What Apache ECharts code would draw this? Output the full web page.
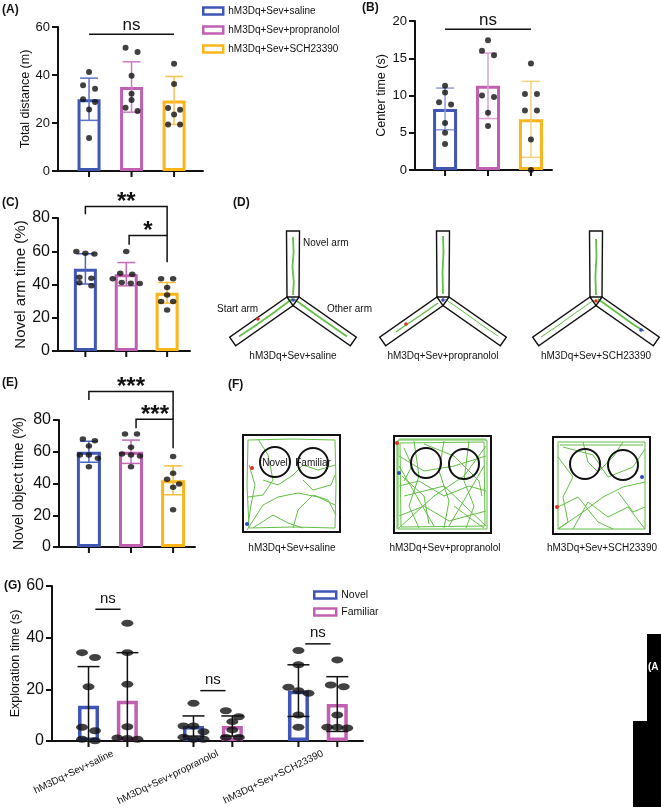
<!DOCTYPE html>
<html><head><meta charset="utf-8">
<script src="https://cdn.jsdelivr.net/npm/echarts@6/dist/echarts.min.js"></script>
<style>html,body{margin:0;padding:0;background:#fff}#c{width:661px;height:810px}</style>
</head><body><div id="c"></div>
<script>
// ---------------- data ----------------
const groups = ['hM3Dq+Sev+saline', 'hM3Dq+Sev+propranolol', 'hM3Dq+Sev+SCH23390'];
const objectNames = ['Novel', 'Familiar'];

// (A) Total distance (m)
const distMean = [29.9, 35.0, 29.4];
const distSD = [8.8, 10.5, 10.0];
const distDots = [[41.3, 35.7, 34.3, 29.9, 28.75, 25.6, 13.75], [51.4, 49.6, 39.7, 32.2, 29.6, 26.4, 25.0], [44.7, 36.2, 26.2, 25.5, 23.5, 19.4, 19.4]];

// (B) Center time (s)
const centerMean = [8.2, 11.3, 6.8];
const centerSD = [2.8, 4.4, 5.1];
const centerDots = [[11.3, 10.4, 9.1, 8.8, 6.3, 5.0, 3.5], [17.4, 16.0, 15.4, 10.0, 9.8, 7.7, 5.9], [14.3, 10.2, 10.2, 8.0, 8.0, 4.1, 0]];

// (C) Novel arm time (%)
const armMean = [49.4, 46.2, 35.0];
const armSD = [9.1, 7.0, 6.2];
const armDots = [[59.8, 58.8, 58.4, 44.4, 43.8, 41.1, 39.3], [59.8, 46.8, 46.2, 43.5, 41.2, 40.8, 40.6], [43.4, 43.4, 38.2, 33.7, 29.7, 29.7, 24.7]];

// (E) Novel object time (%)
const objMean = [60.0, 60.0, 42.0];
const objSD = [6.6, 7.35, 9.1];
const objDots = [[68, 67, 63.6, 58, 58, 55.9, 50.6], [71.2, 71.2, 62.8, 58.6, 58, 57.3, 50.5], [57, 46.5, 42.6, 39.7, 37.6, 23.5]];

// (G) Exploration time (s)
const novelMean = [13.6, 5.8, 19.5];
const novelSD = [15.2, 3.9, 10.0];
const familiarMean = [15.6, 5.8, 14.3];
const familiarSD = [18.6, 3.9, 10.6];
const novelDots = [[34.2, 32.3, 21.0, 5.3, 4.0, 0.7, 0.1], [14.6, 5.8, 5.8, 3.6, 1.5, 0.7, 0.7], [35.0, 29.5, 20.8, 19.5, 18.5, 10.1, 5.3]];
const familiarDots = [[45.6, 34.2, 22.0, 5.5, 1.2, 1.0, 0.7], [11.7, 9.4, 7.5, 4.3, 1.4, 1.4], [31.4, 21.7, 21.0, 10.1, 5.3, 5.3, 5.0]];

// significance labels
const sigA = ['ns'], sigB = ['ns'], sigC = ['**', '*'], sigE = ['***', '***'], sigG = ['ns', 'ns', 'ns'];

// ---------------- style / layout ----------------
const FONT = '"Liberation Sans", Arial, sans-serif';
const INK = '#111';
const COLORS = ['#3f56b5', '#c160b2', '#fbb519'];
const GREEN = '#63bf46';

function swarm(vals, pyPx, pxX, thr, step2, stepN) {
  const s = vals.slice().sort((a, b) => b - a);
  const out = []; let row = [];
  const flush = () => {
    const k = row.length; const st = k === 2 ? step2 : stepN;
    row.forEach((v, i) => out.push([(i - (k - 1) / 2) * st / pxX, v]));
    row = [];
  };
  s.forEach(v => { if (row.length && (row[0] - v) * pyPx >= thr) flush(); row.push(v); });
  flush();
  return out;
}

const panels = [
  {mean: distMean, sd: distSD, dots: distDots, grid: {left: 58, top: 27, width: 145, height: 144}, xr: [-0.73, 2.68], ymax: 60, yint: 20,
   title: 'Total distance (m)', labelSize: 13, titleSize: 12.5, nameGap: 25, barW: 23, dot: 6,
   errCol: ['#5d72c9', '#cc7dc1', '#f6c257'], pxX: 42.5, pyPx: 2.4,
   brackets: [[0, 57, 2, 57, 57]], texts: [[1, 60.8]], sig: sigA, sigSize: 17, sigBold: false},
  {mean: centerMean, sd: centerSD, dots: centerDots, grid: {left: 415, top: 21, width: 137, height: 149}, xr: [-0.70, 2.49], ymax: 20, yint: 5,
   title: 'Center time (s)', labelSize: 13, titleSize: 12.5, nameGap: 27, barW: 24, dot: 6,
   errCol: ['#8f9cd9', '#dca2d3', '#f8d07f'], pxX: 43, pyPx: 7.45,
   brackets: [[0, 18.9, 2, 18.9, 18.9]], texts: [[1, 20.1]], sig: sigB, sigSize: 17, sigBold: false},
  {mean: armMean, sd: armSD, dots: armDots, grid: {left: 58, top: 218, width: 132, height: 133}, xr: [-0.67, 2.56], ymax: 80, yint: 20,
   title: 'Novel arm time (%)', labelSize: 16, titleSize: 15, nameGap: 30, barW: 23, dot: [6.5, 5.5],
   errCol: ['#4c63c0', '#c46bb8', '#f8bd3a'], pxX: 40.75, pyPx: 1.66,
   brackets: [[0, 82.3, 2, 69.5, 86.9], [1.07, 63.9, 2, 53.4, 69.5]], texts: [[1, 92.4], [1.53, 75]], sig: sigC, sigSize: 24, sigBold: true},
  {mean: objMean, sd: objSD, dots: objDots, grid: {left: 59, top: 420, width: 136, height: 127}, xr: [-0.71, 2.52], ymax: 80, yint: 20,
   title: 'Novel object time (%)', labelSize: 16, titleSize: 14, nameGap: 33, barW: 24, dot: [6.5, 5.5],
   errCol: ['#4c63c0', '#c46bb8', '#f8bd3a'], pxX: 42, pyPx: 1.59,
   brackets: [[0, 92.6, 2, 80.4, 97.9], [1.12, 74.8, 2, 62.2, 80.4]], texts: [[1, 103.5], [1.57, 85.9]], sig: sigE, sigSize: 24, sigBold: true}
];

const G = {grid: {left: 52, top: 586, width: 311, height: 155}, xr: [-0.533, 2.43], ymax: 60, yint: 20, pxX: 105, pyPx: 2.58, off: 0.185};

const option = {
  animation: false,
  backgroundColor: '#fff',
  textStyle: {fontFamily: FONT},
  grid: [], xAxis: [], yAxis: [], series: [],
  legend: [
    {orient: 'vertical', left: 197, top: 0, itemWidth: 20, itemHeight: 7, itemGap: 7, icon: 'rect', selectedMode: false,
     textStyle: {fontSize: 10, color: INK, lineHeight: 12},
     data: groups.map((n, i) => ({name: n, itemStyle: {color: '#fff', borderColor: COLORS[i], borderWidth: 2.5}}))},
    {orient: 'vertical', left: 308, top: 584, itemWidth: 22, itemHeight: 7, itemGap: 5, icon: 'rect', selectedMode: false,
     textStyle: {fontSize: 10.5, color: INK, lineHeight: 12},
     data: objectNames.map((n, i) => ({name: n, itemStyle: {color: '#fff', borderColor: COLORS[i], borderWidth: 2.5}}))}
  ],
  graphic: []
};

function addAxes(gi, P, title, labelSize, titleSize, nameGap) {
  option.grid.push(Object.assign({containLabel: false}, P.grid));
  option.xAxis.push({gridIndex: gi, type: 'value', min: P.xr[0], max: P.xr[1],
    axisLine: {show: true, onZero: false, lineStyle: {color: INK, width: 2}}, axisTick: {show: false}, axisLabel: {show: false}, splitLine: {show: false}});
  option.yAxis.push({gridIndex: gi, type: 'value', min: 0, max: P.ymax, interval: P.yint,
    axisLine: {show: true, onZero: false, lineStyle: {color: INK, width: 2}}, axisTick: {show: true, length: 6, lineStyle: {color: INK, width: 2}},
    axisLabel: {fontSize: labelSize, color: INK, margin: 8}, splitLine: {show: false},
    name: title, nameLocation: 'middle', nameGap: nameGap, nameTextStyle: {fontSize: titleSize, color: INK}});
}

function errSeries(gi, data, colors, cap, lw) {
  return {type: 'custom', xAxisIndex: gi, yAxisIndex: gi, z: 6, silent: true, clip: false, data: data,
    renderItem: (p, api) => {
      const x = api.value(0), m = api.value(1), s = api.value(2);
      const col = colors[p.dataIndex % colors.length];
      const a = api.coord([x, m + s]), b = api.coord([x, Math.max(m - s, 0)]);
      const st = {stroke: col, lineWidth: lw};
      const ch = [{type: 'line', shape: {x1: a[0], y1: a[1], x2: b[0], y2: b[1]}, style: st},
                  {type: 'line', shape: {x1: a[0] - cap / 2, y1: a[1], x2: a[0] + cap / 2, y2: a[1]}, style: st}];
      if (m - s > 0) ch.push({type: 'line', shape: {x1: b[0] - cap / 2, y1: b[1], x2: b[0] + cap / 2, y2: b[1]}, style: st});
      return {type: 'group', children: ch};
    }};
}
function tickSeries(gi, xs) {
  return {type: 'custom', xAxisIndex: gi, yAxisIndex: gi, z: 6, silent: true, clip: false, data: xs.map(x => [x, 0]),
    renderItem: (p, api) => { const a = api.coord([api.value(0), 0]);
      return {type: 'line', shape: {x1: a[0], y1: a[1], x2: a[0], y2: a[1] + 6}, style: {stroke: INK, lineWidth: 2}}; }};
}
function bracketSeries(gi, data) {
  return {type: 'custom', xAxisIndex: gi, yAxisIndex: gi, z: 7, silent: true, clip: false, data: data,
    renderItem: (p, api) => {
      const xL = api.value(0), yL = api.value(1), xR = api.value(2), yR = api.value(3), yT = api.value(4);
      const pts = [api.coord([xL, yL]), api.coord([xL, yT]), api.coord([xR, yT]), api.coord([xR, yR])];
      return {type: 'polyline', shape: {points: pts}, style: {stroke: INK, lineWidth: 1.5, fill: null}};
    }};
}
function textSeries(gi, data, labels, size, bold) {
  return {type: 'custom', xAxisIndex: gi, yAxisIndex: gi, z: 7, silent: true, clip: false, data: data,
    renderItem: (p, api) => {
      const a = api.coord([api.value(0), api.value(1)]);
      return {type: 'text', x: a[0], y: a[1] + (bold ? size * 0.2 : 0),
        style: {text: labels[p.dataIndex], fontSize: size, fontWeight: bold ? 'bold' : 'normal', fontFamily: FONT, fill: INK, align: 'center', verticalAlign: 'middle'}};
    }};
}

panels.forEach((P, gi) => {
  addAxes(gi, P, P.title, P.labelSize, P.titleSize, P.nameGap);
  groups.forEach((name, i) => option.series.push({type: 'bar', name: name, xAxisIndex: gi, yAxisIndex: gi, data: [[i, P.mean[i]]],
    barWidth: P.barW, barGap: '-100%', z: 2, silent: true,
    itemStyle: {color: 'rgba(255,255,255,0)', borderColor: COLORS[i], borderWidth: 3}}));
  option.series.push(errSeries(gi, P.mean.map((m, i) => [i, m, P.sd[i]]), P.errCol, 18, 1.5));
  const dots = [];
  P.dots.forEach((vals, i) => swarm(vals, P.pyPx, P.pxX, 5, 12, 9).forEach(d => dots.push([i + d[0], d[1]])));
  option.series.push({type: 'scatter', xAxisIndex: gi, yAxisIndex: gi, data: dots, symbol: 'circle', symbolSize: P.dot,
    itemStyle: {color: INK}, z: 8, silent: true, clip: false});
  option.series.push(tickSeries(gi, [0, 1, 2]));
  option.series.push(bracketSeries(gi, P.brackets));
  option.series.push(textSeries(gi, P.texts, P.sig, P.sigSize, P.sigBold));
});

// (G)
const gi = panels.length;
addAxes(gi, G, 'Exploration time (s)', 16, 12.5, 24);
[[novelMean, novelSD, novelDots, -G.off], [familiarMean, familiarSD, familiarDots, G.off]].forEach((s, k) => {
  option.series.push({type: 'bar', name: objectNames[k], xAxisIndex: gi, yAxisIndex: gi, data: s[0].map((m, i) => [i + s[3], m]),
    barWidth: 21, barGap: '-100%', z: 2, silent: true,
    itemStyle: {color: 'rgba(255,255,255,0)', borderColor: COLORS[k], borderWidth: 3.5}});
  option.series.push(errSeries(gi, s[0].map((m, i) => [i + s[3], m, s[1][i]]), [INK], 22, 1.5));
  const dots = [];
  s[2].forEach((vals, i) => swarm(vals, G.pyPx, G.pxX, 7, 13, 10).forEach(d => dots.push([i + s[3] + d[0], d[1]])));
  option.series.push({type: 'scatter', xAxisIndex: gi, yAxisIndex: gi, data: dots, symbol: 'circle', symbolSize: [12, 7],
    itemStyle: {color: INK}, z: 8, silent: true, clip: false});
});
option.series.push(tickSeries(gi, [0, 1, 2].flatMap(i => [i - G.off, i + G.off])));
option.series.push(bracketSeries(gi, [[-0.12, 51.0, 0.12, 51.0, 51.0], [0.88, 19.5, 1.12, 19.5, 19.5], [1.88, 37.6, 2.12, 37.6, 37.6]]));
option.series.push(textSeries(gi, [[0, 54.9], [1, 23.6], [2, 42.0]], sigG, 15, false));
option.series.push({type: 'custom', xAxisIndex: gi, yAxisIndex: gi, z: 7, silent: true, clip: false, data: [[0, 0], [1, 0], [2, 0]],
  renderItem: (p, api) => { const a = api.coord([api.value(0), 0]);
    return {type: 'text', x: a[0] + 5, y: a[1] + 12, rotation: 26 * Math.PI / 180,
      style: {text: groups[p.dataIndex], fontSize: 10, fontFamily: FONT, fill: INK, align: 'right', verticalAlign: 'middle'}}; }});

// ---------------- illustrations (D, F) and labels ----------------
const gr = option.graphic;
function txt(x, y, t, size, opts) {
  gr.push(Object.assign({type: 'text', x: x, y: y, silent: true,
    style: Object.assign({text: t, fontSize: size, fontFamily: FONT, fill: INK, align: 'left', verticalAlign: 'middle'}, opts || {})}));
}
[['(A)', 2, 10], ['(B)', 362, 8], ['(C)', 2, 203], ['(D)', 233, 203], ['(E)', 2, 383], ['(F)', 228, 385], ['(G)', 4, 586]]
  .forEach(l => txt(l[1], l[2], l[0], 12, {fontWeight: 'bold'}));

function maze(cx, cy, greens, marks) {
  const u = [-0.819, 0.574], L = 70, P1 = [-6, 0], P2 = [0, 8.56];
  const left = [P1, P2, [P2[0] + u[0] * L, P2[1] + u[1] * L], [P1[0] + u[0] * L, P1[1] + u[1] * L]];
  const right = left.map(p => [-p[0], p[1]]);
  const top = [[-6, 0], [6, 0], [6.5, -66], [-6.5, -66]];
  const ch = [];
  greens.forEach(g => ch.push({type: 'polyline', shape: {points: g[0]}, style: {stroke: GREEN, lineWidth: g[1], fill: null}}));
  [top, left, right].forEach(p => ch.push({type: 'polygon', shape: {points: p}, style: {fill: 'none', stroke: INK, lineWidth: 1.4}}));
  marks.forEach(m => ch.push({type: 'circle', shape: {cx: m[0], cy: m[1], r: 1.8}, style: {fill: m[2]}}));
  gr.push({type: 'group', x: cx, y: cy, silent: true, children: ch});
}
maze(293, 297, [
  [[[0, -2], [0.8, -15], [-0.5, -30], [0.6, -45], [0, -60]], 1.8],
  [[[-1, 2], [-19, 15.5], [-36, 27.5], [-54, 39.5]], 1.8],
  [[[1, 2], [19, 15], [36, 27], [54, 39.5]], 1.8]], [[0, 3, '#3347c0'], [-35, 22, '#e03020']]);
maze(443, 297, [
  [[[0, -3], [-0.5, -25], [0.5, -45], [0, -61]], 1.8],
  [[[-5, 6], [-22, 18], [-40, 30], [-47, 35]], 1.5],
  [[[2, 2], [20, 14.5], [38, 27.5], [55, 39]], 1]], [[0, 3, '#3347c0'], [-37, 27, '#e03020']]);
maze(596, 297, [
  [[[0, -2], [-0.6, -20], [0.5, -42], [0, -58]], 1.8],
  [[[-2, 3], [-20, 15.5], [-38, 28.5], [-55, 40]], 1],
  [[[2, 2], [20, 15], [38, 28], [48, 34]], 1.8]], [[0, 4, '#e03020'], [45, 33, '#3347c0']]);
txt(303, 243, 'Novel arm', 10);
txt(217, 309, 'Start arm', 10);
txt(327, 309, 'Other arm', 10);
[[293, 0], [443, 1], [596, 2]].forEach(c => txt(c[0], 356, groups[c[1]], 10, {align: 'center'}));

function field(x0, y0, paths, marks, labels) {
  const ch = [];
  paths.forEach(p => ch.push({type: 'polyline', shape: {points: p}, style: {stroke: GREEN, lineWidth: 1, fill: null}}));
  ch.push({type: 'rect', shape: {x: 0, y: 0, width: 97, height: 97}, style: {fill: 'none', stroke: INK, lineWidth: 2}});
  [[32, 27], [70, 28]].forEach(c => ch.push({type: 'circle', shape: {cx: c[0], cy: c[1], r: 15}, style: {fill: 'none', stroke: INK, lineWidth: 2}}));
  marks.forEach(m => ch.push({type: 'circle', shape: {cx: m[0], cy: m[1], r: 2}, style: {fill: m[2]}}));
  (labels || []).forEach(l => ch.push({type: 'text', x: l[0], y: l[1], style: {text: l[2], fontSize: 10, fontFamily: FONT, fill: INK, align: 'center', verticalAlign: 'middle'}}));
  gr.push({type: 'group', x: x0, y: y0, silent: true, children: ch});
}
field(243, 435, [
  [[5, 5], [50, 4], [92, 5], [93, 50], [92, 93], [50, 92], [6, 93], [4, 50], [5, 5]],
  [[6, 30], [12, 50], [8, 70], [5, 90]],
  [[4, 95], [20, 70], [35, 62], [55, 58], [75, 62], [92, 70]],
  [[10, 93], [30, 80], [45, 88], [60, 93]],
  [[20, 45], [35, 50], [50, 40], [60, 30], [75, 35], [92, 30]],
  [[50, 93], [55, 75], [70, 60], [85, 65], [93, 80]],
  [[15, 4], [25, 20], [30, 45], [20, 60], [5, 62]],
  [[60, 45], [70, 55], [88, 50], [92, 40]]
], [[9, 33, '#e03020'], [4, 89, '#3347c0']], [[32, 28, 'Novel'], [70, 28, 'Familiar']]);
field(394, 436, [
  [[4, 4], [93, 4], [93, 93], [4, 93], [4, 4]],
  [[6, 7], [90, 6], [91, 90], [7, 91], [6, 7]],
  [[3, 5], [3, 93]], [[5, 3], [92, 3]],
  [[5, 20], [30, 35], [60, 30], [92, 20]],
  [[5, 50], [25, 45], [50, 60], [75, 50], [92, 55]],
  [[5, 80], [30, 70], [55, 85], [92, 75]],
  [[20, 5], [25, 40], [15, 70], [25, 92]],
  [[50, 5], [45, 35], [55, 65], [50, 92]],
  [[75, 5], [70, 45], [80, 70], [72, 92]],
  [[5, 30], [40, 90]], [[90, 30], [55, 90]],
  [[10, 60], [50, 50], [92, 90]],
  [[5, 92], [40, 60], [70, 40], [92, 10]],
  [[30, 8], [60, 20], [85, 45], [88, 60]],
  [[8, 40], [30, 60], [35, 88]],
  [[60, 70], [80, 85], [90, 92]],
  [[10, 12], [18, 30], [10, 45]]
], [[5, 37, '#3347c0'], [3, 7, '#e03020']]);
field(553, 437, [
  [[5, 5], [92, 5], [92, 92], [5, 92], [5, 5]],
  [[7, 8], [90, 8]],
  [[5, 20], [20, 40], [10, 60], [15, 85], [5, 92]],
  [[5, 92], [30, 75], [50, 60], [70, 50], [92, 45]],
  [[20, 92], [35, 65], [55, 80], [75, 70], [92, 92]],
  [[10, 10], [40, 18], [55, 40], [80, 30], [92, 12]],
  [[30, 5], [35, 25], [45, 35], [60, 20], [70, 5]],
  [[5, 70], [25, 60], [45, 85], [60, 92]],
  [[65, 55], [80, 75], [92, 70]]
], [[89, 40, '#3347c0'], [4, 70, '#e03020']]);
[[292, 0], [445, 1], [602, 2]].forEach(c => txt(c[0], 548, groups[c[1]], 10, {align: 'center'}));

// black corner shape
gr.push({type: 'polygon', silent: true, shape: {points: [[633, 721], [647, 721], [647, 634], [661, 634], [661, 807], [633, 807]]}, style: {fill: '#000'}});
txt(648, 667, '(A', 10, {fill: '#fff', fontWeight: 'bold'});

const chart = echarts.init(document.getElementById('c'), null, {renderer: 'canvas', width: 661, height: 810});
chart.setOption(option);
</script>
</body></html>
